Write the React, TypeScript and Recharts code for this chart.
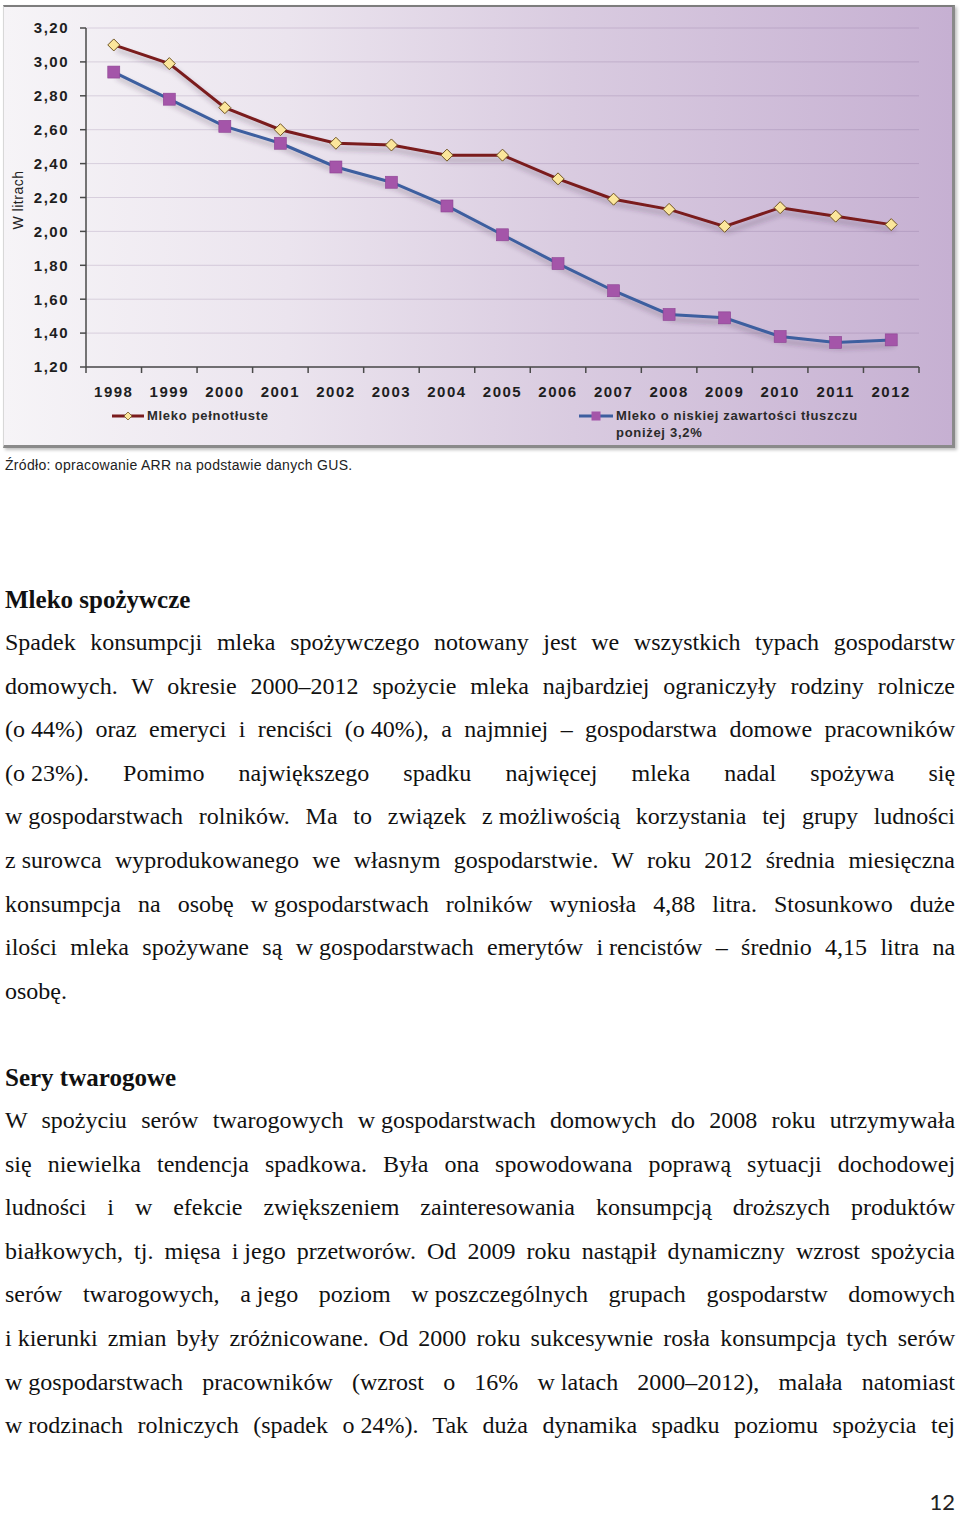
import React from "react";
import { LineChart, Line, XAxis, YAxis, CartesianGrid } from "recharts";

const years = ["1998", "1999", "2000", "2001", "2002", "2003", "2004", "2005", "2006", "2007", "2008", "2009", "2010", "2011", "2012"];
const fullFat = [3.1, 2.99, 2.73, 2.6, 2.52, 2.51, 2.45, 2.45, 2.31, 2.19, 2.13, 2.03, 2.14, 2.09, 2.04];
const lowFat = [2.94, 2.78, 2.62, 2.52, 2.38, 2.29, 2.15, 1.98, 1.81, 1.65, 1.51, 1.49, 1.38, 1.345, 1.36];
const yTicks = [1.2, 1.4, 1.6, 1.8, 2.0, 2.2, 2.4, 2.6, 2.8, 3.0, 3.2];

const seriesNames = ["Mleko pełnotłuste", "Mleko o niskiej zawartości tłuszczu", "poniżej 3,2%"];
const sourceText = "Źródło: opracowanie ARR na podstawie danych GUS.";

// "~" marks a hard space (not stretched by justification)
const heading1 = "Mleko spożywcze";
const para1Lines = [
  "Spadek konsumpcji mleka spożywczego notowany jest we wszystkich typach gospodarstw",
  "domowych. W okresie 2000–2012 spożycie mleka najbardziej ograniczyły rodziny rolnicze",
  "(o~44%) oraz emeryci i renciści (o~40%), a najmniej – gospodarstwa domowe pracowników",
  "(o~23%). Pomimo największego spadku najwięcej mleka nadal spożywa się",
  "w~gospodarstwach rolników. Ma to związek z~możliwością korzystania tej grupy ludności",
  "z~surowca wyprodukowanego we własnym gospodarstwie. W roku 2012 średnia miesięczna",
  "konsumpcja na osobę w~gospodarstwach rolników wyniosła 4,88 litra. Stosunkowo duże",
  "ilości mleka spożywane są w~gospodarstwach emerytów i~rencistów – średnio 4,15 litra na",
  "osobę.",
];
const heading2 = "Sery twarogowe";
const para2Lines = [
  "W spożyciu serów twarogowych w~gospodarstwach domowych do 2008 roku utrzymywała",
  "się niewielka tendencja spadkowa. Była ona spowodowana poprawą sytuacji dochodowej",
  "ludności i w efekcie zwiększeniem zainteresowania konsumpcją droższych produktów",
  "białkowych, tj. mięsa i~jego przetworów. Od 2009 roku nastąpił dynamiczny wzrost spożycia",
  "serów twarogowych, a~jego poziom w~poszczególnych grupach gospodarstw domowych",
  "i~kierunki zmian były zróżnicowane. Od 2000 roku sukcesywnie rosła konsumpcja tych serów",
  "w~gospodarstwach pracowników (wzrost o 16% w~latach 2000–2012), malała natomiast",
  "w~rodzinach rolniczych (spadek o~24%). Tak duża dynamika spadku poziomu spożycia tej",
];

const data = years.map((year, i) => ({ year, full: fullFat[i], low: lowFat[i] }));

const axisFont = '"Liberation Sans", Arial, sans-serif';
const serif = '"Liberation Serif", "Times New Roman", serif';
const HALF_BAND = 27.77;

function DiamondDot(props: any) {
  const { cx, cy, index } = props;
  if (cx == null || cy == null) return null;
  const r = 6;
  return (
    <path
      key={`d-${index}`}
      d={`M${cx},${cy - r}L${cx + r},${cy}L${cx},${cy + r}L${cx - r},${cy}Z`}
      fill="#fbe69b"
      stroke="#6f5322"
      strokeWidth={1}
    />
  );
}

function SquareDot(props: any) {
  const { cx, cy, index } = props;
  if (cx == null || cy == null) return null;
  return (
    <rect key={`s-${index}`} x={cx - 6} y={cy - 6} width={12} height={12} fill="#a455a9" stroke="#8d4393" strokeWidth={0.6} />
  );
}

function YearTick(props: any) {
  const { x, y, payload, index } = props;
  const axisY = y - 6 - 13;
  return (
    <g>
      <line x1={x - HALF_BAND} x2={x - HALF_BAND} y1={axisY} y2={axisY + 6} stroke="#4a4a4a" strokeWidth={1.5} />
      {index === years.length - 1 && (
        <line x1={x + HALF_BAND} x2={x + HALF_BAND} y1={axisY} y2={axisY + 6} stroke="#4a4a4a" strokeWidth={1.5} />
      )}
      <text x={x} y={y} dy="0.71em" textAnchor="middle" fontFamily={axisFont} fontWeight={700} fontSize={15} letterSpacing={1.5} fill="#1e1e1e">
        {payload.value}
      </text>
    </g>
  );
}

function renderWords(text: string) {
  return text.split(" ").map((w, i) => (
    <React.Fragment key={i}>
      {i > 0 ? " " : ""}
      {w.includes("~") ? <span style={{ display: "inline-block" }}>{w.replace(/~/g, "\u00a0")}</span> : w}
    </React.Fragment>
  ));
}

function TextLine({ text, baseline, justify, bold, size = 24 }: { text: string; baseline: number; justify?: boolean; bold?: boolean; size?: number }) {
  return (
    <div
      style={{
        position: "absolute",
        left: 5,
        top: baseline - 23,
        width: 950,
        fontFamily: serif,
        fontSize: size,
        lineHeight: "30px",
        whiteSpace: "nowrap",
        textAlign: justify ? "justify" : "left",
        textAlignLast: justify ? "justify" : "left",
        fontWeight: bold ? 700 : 400,
        color: "#111",
      }}
    >
      {renderWords(text)}
    </div>
  );
}

export default function App() {
  return (
    <div style={{ position: "absolute", left: 0, top: 0, width: 960, height: 1517, background: "#fff", overflow: "hidden" }}>
      <style>{`.shadowLine { filter: url(#lineShadow); }`}</style>
      <svg width={0} height={0} style={{ position: "absolute" }}>
        <defs>
          <filter id="lineShadow" x="-10%" y="-10%" width="130%" height="140%">
            <feDropShadow dx={3} dy={5} stdDeviation={2.5} floodColor="#3a2a45" floodOpacity={0.35} />
          </filter>
        </defs>
      </svg>

      {/* chart frame */}
      <div
        style={{
          position: "absolute",
          left: 3,
          top: 5,
          width: 952,
          height: 443,
          boxSizing: "border-box",
          borderTop: "2px solid #7d7d7d",
          borderRight: "3px solid #8a8a8a",
          borderBottom: "3px solid #8a8a8a",
          borderLeft: "1px solid #d8d8d8",
          background: "linear-gradient(to right, #f6f4f7 0%, #ebe4ee 30%, #d9cbe0 60%, #c6b0d2 100%)",
          boxShadow: "2px 2px 3px rgba(0,0,0,0.25)",
        }}
      >
        <LineChart width={948} height={438} data={data} margin={{ top: 21, right: 33, left: 0, bottom: 48 }}>
          <CartesianGrid vertical={false} stroke="rgba(110,80,130,0.2)" strokeWidth={1} />
          <XAxis
            dataKey="year"
            height={30}
            padding={{ left: HALF_BAND, right: HALF_BAND }}
            tickLine={false}
            tickSize={6}
            tickMargin={13}
            axisLine={{ stroke: "#4a4a4a", strokeWidth: 1.5 }}
            tick={<YearTick />}
            interval={0}
          />
          <YAxis
            width={82}
            domain={[1.2, 3.2]}
            ticks={yTicks}
            tickSize={6}
            tickMargin={11}
            axisLine={{ stroke: "#4a4a4a", strokeWidth: 1.5 }}
            tickLine={{ stroke: "#4a4a4a", strokeWidth: 1.5 }}
            tick={{ fontFamily: axisFont, fontWeight: 700, fontSize: 15, letterSpacing: 1.5, fill: "#1e1e1e" }}
            tickFormatter={(v: number) => v.toFixed(2).replace(".", ",")}
            interval={0}
          />
          <Line
            className="shadowLine"
            dataKey="low"
            stroke="#3d5e9f"
            strokeWidth={3}
            dot={<SquareDot />}
            activeDot={false}
            isAnimationActive={false}
          />
          <Line
            className="shadowLine"
            dataKey="full"
            stroke="#7a1b1d"
            strokeWidth={3}
            dot={<DiamondDot />}
            activeDot={false}
            isAnimationActive={false}
          />
        </LineChart>

        {/* axis title */}
        <div
          style={{
            position: "absolute",
            left: 14 - 60,
            top: 193 - 9,
            width: 120,
            height: 18,
            lineHeight: "18px",
            textAlign: "center",
            transform: "rotate(-90deg)",
            fontFamily: axisFont,
            fontSize: 14,
            letterSpacing: 0.5,
            color: "#222",
          }}
        >
          W litrach
        </div>

        {/* legend */}
        <svg width={40} height={14} style={{ position: "absolute", left: 108, top: 402 }}>
          <line x1={0} x2={32} y1={7} y2={7} stroke="#7a1b1d" strokeWidth={3} />
          <path d="M16,3L20,7L16,11L12,7Z" fill="#fbe69b" stroke="#6f5322" strokeWidth={0.8} />
        </svg>
        <div style={{ position: "absolute", left: 143, top: 400, fontFamily: axisFont, fontWeight: 700, fontSize: 13, letterSpacing: 0.7, lineHeight: "17px", color: "#2a2a2a", whiteSpace: "nowrap" }}>
          {seriesNames[0]}
        </div>
        <svg width={40} height={14} style={{ position: "absolute", left: 575, top: 402 }}>
          <line x1={0} x2={34} y1={7} y2={7} stroke="#3d5e9f" strokeWidth={3} />
          <rect x={12.5} y={2.5} width={9} height={9} fill="#a455a9" />
        </svg>
        <div style={{ position: "absolute", left: 612, top: 400, fontFamily: axisFont, fontWeight: 700, fontSize: 13, letterSpacing: 0.7, lineHeight: "17px", color: "#2a2a2a", whiteSpace: "nowrap" }}>
          {seriesNames[1]}
          <br />
          {seriesNames[2]}
        </div>
      </div>

      {/* source */}
      <div style={{ position: "absolute", left: 5, top: 457, fontFamily: axisFont, fontSize: 14, letterSpacing: 0.3, lineHeight: "16px", color: "#222", whiteSpace: "nowrap" }}>
        {sourceText}
      </div>

      {/* text */}
      <TextLine text={heading1} baseline={608} bold size={25} />
      {para1Lines.map((t, i) => (
        <TextLine key={`p1-${i}`} text={t} baseline={650 + i * 43.6} justify={i < para1Lines.length - 1} />
      ))}
      <TextLine text={heading2} baseline={1086} bold size={25} />
      {para2Lines.map((t, i) => (
        <TextLine key={`p2-${i}`} text={t} baseline={1128 + i * 43.6} justify />
      ))}

      <div style={{ position: "absolute", right: 5, top: 1490, fontFamily: 'Lato, "Open Sans", sans-serif', fontSize: 22, lineHeight: "24px", color: "#222" }}>
        12
      </div>
    </div>
  );
}
